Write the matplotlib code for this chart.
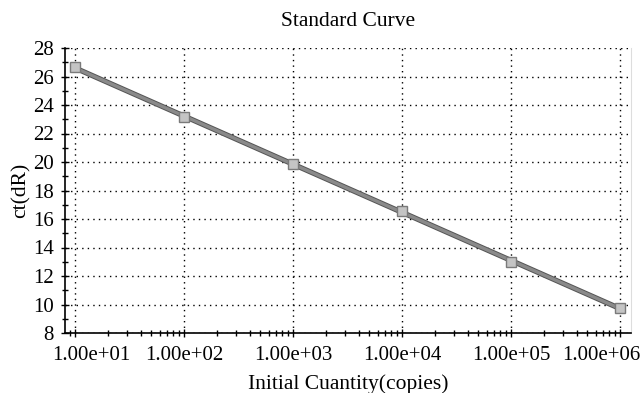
import numpy as np
import matplotlib.pyplot as plt
import matplotlib.patheffects as pe
import matplotlib.transforms as mtransforms
from matplotlib.ticker import FixedLocator, LogLocator, NullFormatter, MultipleLocator

plt.rcParams['font.family'] = ['Liberation Serif', 'DejaVu Serif']

# standard curve points
quantity = [1e1, 1e2, 1e3, 1e4, 1e5, 1e6]
ct = [26.66, 23.13, 19.84, 16.56, 12.99, 9.76]
x_ticks = [1e1, 1e2, 1e3, 1e4, 1e5, 1e6]
x_labels = ['1.00e+01', '1.00e+02', '1.00e+03', '1.00e+04', '1.00e+05', '1.00e+06']
y_ticks = [8, 10, 12, 14, 16, 18, 20, 22, 24, 26, 28]

fig = plt.figure(figsize=(6.43, 3.93), dpi=100)
ax = fig.add_axes([65 / 643, 1 - 333 / 393, 566 / 643, 285 / 393])

# regression line of ct vs log10(quantity)
logq = np.log10(quantity)
slope, icpt = np.polyfit(logq, ct, 1)
xs = np.logspace(logq[0], logq[-1], 50)
ax.plot(xs, slope * np.log10(xs) + icpt, color='#8a8a8a', lw=2.4, zorder=3,
        path_effects=[pe.Stroke(linewidth=3.8, foreground='#555555'), pe.Normal()])
ax.plot(quantity, ct, 's', ms=7.5, mfc='#c4c4c4', mec='#7a7a7a', mew=1.0, zorder=4)

ax.set_xscale('log')
ax.set_xlim(10 ** 0.908, 10 ** 6.101)
ax.set_ylim(8, 28)
ax.xaxis.set_major_locator(FixedLocator(x_ticks))
ax.set_xticklabels(x_labels)
ax.xaxis.set_minor_locator(LogLocator(base=10, subs=np.arange(2, 10)))
ax.xaxis.set_minor_formatter(NullFormatter())
ax.set_yticks(y_ticks)
ax.yaxis.set_minor_locator(MultipleLocator(1))

ax.grid(True, which='major', color='black', linestyle=(0, (1, 3)), linewidth=1.0)
ax.tick_params(axis='both', which='major', labelsize=15, direction='inout', length=6, width=1)
ax.tick_params(axis='both', which='minor', direction='inout', length=4, width=1)
ax.tick_params(axis='x', pad=6)
ax.tick_params(axis='y', pad=5)

# keep the outer x labels inside the figure, as in the original
labels = ax.get_xticklabels()
labels[0].set_transform(labels[0].get_transform()
                        + mtransforms.ScaledTranslation(16 / 100, 0, fig.dpi_scale_trans))
labels[-1].set_transform(labels[-1].get_transform()
                         + mtransforms.ScaledTranslation(-19 / 100, 0, fig.dpi_scale_trans))

ax.spines['top'].set_visible(False)
ax.spines['right'].set_color('#dddddd')
ax.spines['left'].set_linewidth(1.2)
ax.spines['bottom'].set_linewidth(1.2)

ax.set_title('Standard Curve', fontsize=15.5, pad=16)
ax.set_xlabel('Initial Cuantity(copies)', fontsize=15.5, labelpad=7)
ax.set_ylabel('ct(dR)', fontsize=15.5, labelpad=2)

fig.savefig('out.png', dpi=100)
